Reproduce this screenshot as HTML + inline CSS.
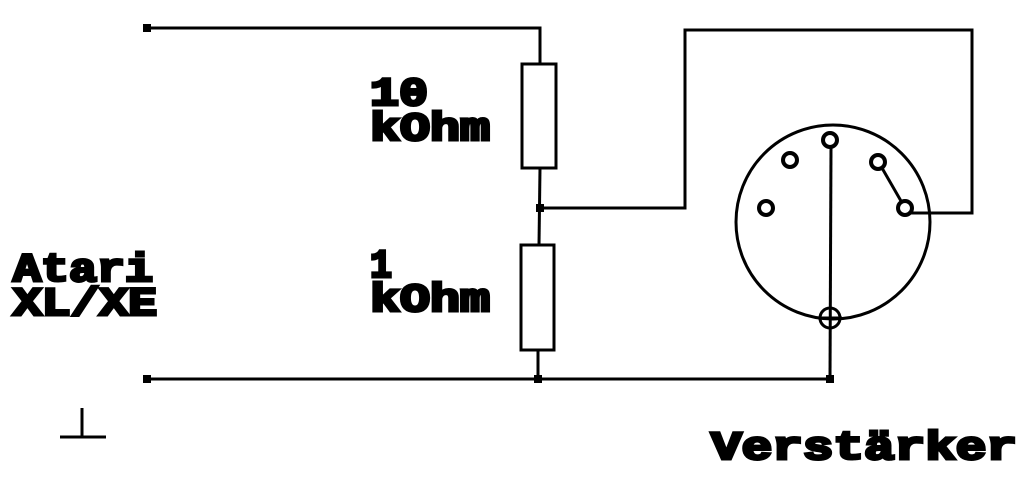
<!DOCTYPE html>
<html><head><style>html,body{margin:0;padding:0;background:#fff;}</style></head>
<body>
<svg width="1032" height="480" viewBox="0 0 1032 480" xmlns="http://www.w3.org/2000/svg">
<rect width="1032" height="480" fill="#fff"/>
<g stroke="#000" stroke-width="3" fill="none">
<polyline points="147,28 540,28 540,64"/>
<rect x="522" y="64" width="34" height="104"/>
<line x1="540" y1="168" x2="539" y2="245"/>
<rect x="521" y="245" width="33" height="105"/>
<line x1="538" y1="350" x2="538" y2="379"/>
<line x1="147" y1="379" x2="830" y2="379"/>
<polyline points="540,208 685,208 685,30 972,30 972,213 908,213"/>
<circle cx="833" cy="222" r="97"/>
<circle cx="830" cy="140" r="7" stroke-width="4"/>
<circle cx="790" cy="160" r="7" stroke-width="4"/>
<circle cx="766" cy="208" r="7" stroke-width="4"/>
<circle cx="878" cy="162" r="7" stroke-width="4"/>
<circle cx="905" cy="208" r="7" stroke-width="4"/>
<line x1="882" y1="168" x2="901" y2="201"/>
<line x1="831" y1="147" x2="830" y2="379"/>
<circle cx="830" cy="318" r="10"/>
<line x1="818" y1="318" x2="842" y2="318"/>
<line x1="82" y1="408" x2="82" y2="437"/>
<line x1="60" y1="437" x2="106" y2="437"/>
</g>
<g fill="#000">
<rect x="143" y="24" width="8" height="8"/>
<rect x="143" y="375" width="8" height="8"/>
<rect x="536" y="204" width="8" height="8"/>
<rect x="534" y="375" width="8" height="8"/>
<rect x="826" y="375" width="8" height="8"/>
</g>
<g font-family="Liberation Mono, monospace" font-weight="bold" font-size="40" fill="#000" stroke="#000" stroke-width="3" stroke-linejoin="miter">
<text x="370" y="105" textLength="58" lengthAdjust="spacingAndGlyphs">10</text>
<text x="370" y="140" textLength="120" lengthAdjust="spacingAndGlyphs">kOhm</text>
<text x="370" y="277" textLength="22" lengthAdjust="spacingAndGlyphs">1</text>
<text x="370" y="311" textLength="120" lengthAdjust="spacingAndGlyphs">kOhm</text>
<text x="13" y="281" textLength="140" lengthAdjust="spacingAndGlyphs">Atari</text>
<text x="13" y="315" textLength="144" lengthAdjust="spacingAndGlyphs">XL/XE</text>
<text x="711" y="459" textLength="306" lengthAdjust="spacingAndGlyphs">Verstärker</text>
</g>
</svg>
</body></html>
